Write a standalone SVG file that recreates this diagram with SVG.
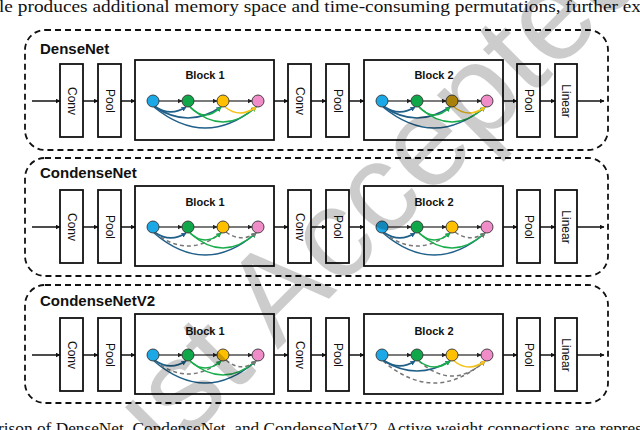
<svg xmlns="http://www.w3.org/2000/svg" width="640" height="430" viewBox="0 0 640 430">
<defs>
<style>
.panel{fill:none;stroke:#111;stroke-width:1.8;stroke-dasharray:6 4}
.box{fill:#fff;stroke:#111;stroke-width:1.8}
.blk{fill:#fff;stroke:#111;stroke-width:1.8}
.lbl{font-family:"Liberation Sans",Arial,sans-serif;font-size:12px;fill:#111;text-anchor:middle;dominant-baseline:central}
.ttl{font-family:"Liberation Sans",Arial,sans-serif;font-size:15px;font-weight:bold;fill:#111}
.btl{font-family:"Liberation Sans",Arial,sans-serif;font-size:11px;font-weight:bold;fill:#111;text-anchor:middle}
.main{fill:none;stroke:#111;stroke-width:1.5;marker-end:url(#ah)}
.na{fill:none;stroke:#222;stroke-width:1.2;marker-end:url(#ahs)}
.ab{fill:none;stroke:#1f5f88;stroke-width:1.6;marker-end:url(#ahb)}
.ag{fill:none;stroke:#1aad4b;stroke-width:1.6;marker-end:url(#ahg)}
.ay{fill:none;stroke:#f5c21a;stroke-width:1.6;marker-end:url(#ahy)}
.ak{fill:none;stroke:#777;stroke-width:1.5;stroke-dasharray:4 3;marker-end:url(#ahk)}
.n{stroke:#333;stroke-width:0.9}
.caption{font-family:"Liberation Serif","Times New Roman",serif;font-size:16.5px;fill:#111}
</style>
<marker id="ah" viewBox="0 0 10 10" refX="9" refY="5" markerWidth="5" markerHeight="5" markerUnits="userSpaceOnUse" orient="auto"><path d="M0,0 L10,5 L0,10 z" fill="#111"/></marker>
<marker id="ahs" viewBox="0 0 10 10" refX="9" refY="5" markerWidth="5" markerHeight="5" markerUnits="userSpaceOnUse" orient="auto"><path d="M0,0 L10,5 L0,10 z" fill="#222"/></marker>
<marker id="ahb" viewBox="0 0 10 10" refX="9" refY="5" markerWidth="5" markerHeight="5" markerUnits="userSpaceOnUse" orient="auto"><path d="M0,0 L10,5 L0,10 z" fill="#1f5f88"/></marker>
<marker id="ahg" viewBox="0 0 10 10" refX="9" refY="5" markerWidth="5" markerHeight="5" markerUnits="userSpaceOnUse" orient="auto"><path d="M0,0 L10,5 L0,10 z" fill="#1aad4b"/></marker>
<marker id="ahy" viewBox="0 0 10 10" refX="9" refY="5" markerWidth="5" markerHeight="5" markerUnits="userSpaceOnUse" orient="auto"><path d="M0,0 L10,5 L0,10 z" fill="#f5c21a"/></marker>
<marker id="ahk" viewBox="0 0 10 10" refX="9" refY="5" markerWidth="5" markerHeight="5" markerUnits="userSpaceOnUse" orient="auto"><path d="M0,0 L10,5 L0,10 z" fill="#777"/></marker>
</defs>
<rect width="640" height="430" fill="#fff"/>

<text class="caption" x="-1" y="12" textLength="642" lengthAdjust="spacingAndGlyphs">le produces additional memory space and time-consuming permutations, further ex</text>
<text class="caption" x="-2" y="434" textLength="644" lengthAdjust="spacingAndGlyphs">rison of DenseNet, CondenseNet, and CondenseNetV2. Active weight connections are repres</text>

<!-- Row 1: DenseNet -->
<g id="densenet">
<rect class="panel" x="25" y="30" width="583" height="120" rx="20"/>
<text class="ttl" x="40" y="54">DenseNet</text>
<g transform="translate(0,101)">
<g id="dn-conv1"><rect class="box" x="60" y="-37" width="23" height="73"/><text class="lbl" transform="translate(71.5,0) rotate(90)">Conv</text></g>
<g id="dn-pool1"><rect class="box" x="98" y="-37" width="23" height="73"/><text class="lbl" transform="translate(109.5,0) rotate(90)">Pool</text></g>
<g id="dn-block1" transform="translate(135,0)">
<rect class="blk" x="0" y="-41" width="139" height="80"/><text class="btl" x="70" y="-22">Block 1</text>
<path class="ab" d="M19,6 Q70.5,48 121,6"/><path class="ab" d="M20,6 Q53,28 86,6"/><path class="ab" d="M20,5.5 Q35.5,16 51,6"/>
<path class="ag" d="M55,6 Q88,36 121,6"/><path class="ag" d="M55,6 Q70,22 86,6"/><path class="ay" d="M90,6 Q105,18 121,6"/>
<path class="na" d="M24,0 H47"/><path class="na" d="M59,0 H82"/><path class="na" d="M94,0 H117"/>
<circle class="n" cx="18" cy="0" r="6" fill="#1aa8e6"/><circle class="n" cx="53" cy="0" r="6" fill="#10a64a"/><circle class="n" cx="88" cy="0" r="6" fill="#ffc000"/><circle class="n" cx="123" cy="0" r="6" fill="#f08cc8"/>
</g>
<g id="dn-conv2"><rect class="box" x="288" y="-37" width="23" height="73"/><text class="lbl" transform="translate(299.5,0) rotate(90)">Conv</text></g>
<g id="dn-pool2"><rect class="box" x="326" y="-37" width="23" height="73"/><text class="lbl" transform="translate(337.5,0) rotate(90)">Pool</text></g>
<g id="dn-block2" transform="translate(364,0)">
<rect class="blk" x="0" y="-41" width="139" height="80"/><text class="btl" x="70" y="-22">Block 2</text>
<path class="ab" d="M19,6 Q70.5,48 121,6"/><path class="ab" d="M20,6 Q53,28 86,6"/><path class="ab" d="M20,5.5 Q35.5,16 51,6"/>
<path class="ag" d="M55,6 Q88,36 121,6"/><path class="ag" d="M55,6 Q70,22 86,6"/><path class="ay" d="M90,6 Q105,18 121,6"/>
<path class="na" d="M24,0 H47"/><path class="na" d="M59,0 H82"/><path class="na" d="M94,0 H117"/>
<circle class="n" cx="18" cy="0" r="6" fill="#1aa8e6"/><circle class="n" cx="53" cy="0" r="6" fill="#10a64a"/><circle class="n" cx="88" cy="0" r="6" fill="#d4a20c"/><circle class="n" cx="123" cy="0" r="6" fill="#f08cc8"/>
</g>
<g id="dn-pool3"><rect class="box" x="517" y="-37" width="23" height="73"/><text class="lbl" transform="translate(528.5,0) rotate(90)">Pool</text></g>
<g id="dn-linear"><rect class="box" x="555" y="-37" width="22" height="73"/><text class="lbl" transform="translate(566,0) rotate(90)">Linear</text></g>
</g>
</g>

<!-- Row 2: CondenseNet -->
<g id="condensenet">
<rect class="panel" x="25" y="158" width="583" height="118" rx="20"/>
<text class="ttl" x="40" y="178">CondenseNet</text>
<g transform="translate(0,227)">
<g id="cn-conv1"><rect class="box" x="60" y="-37" width="23" height="73"/><text class="lbl" transform="translate(71.5,0) rotate(90)">Conv</text></g>
<g id="cn-pool1"><rect class="box" x="98" y="-37" width="23" height="73"/><text class="lbl" transform="translate(109.5,0) rotate(90)">Pool</text></g>
<g id="cn-block1" transform="translate(135,0)">
<rect class="blk" x="0" y="-41" width="139" height="80"/><text class="btl" x="70" y="-21">Block 1</text>
<path class="ab" d="M19,6 Q70.5,50 121,6"/><path class="ak" d="M20,6 Q53,32 86,6"/><path class="ab" d="M20,5.5 Q35.5,16 51,6"/>
<path class="ag" d="M55,6 Q88,36 121,6"/><path class="ag" d="M55,6 Q70,20 86,6"/><path class="ak" d="M91,5 Q106,16 121,6"/>
<path class="na" d="M24,0 H47"/><path class="na" d="M59,0 H82"/><path class="na" d="M94,0 H117"/>
<circle class="n" cx="18" cy="0" r="6" fill="#1aa8e6"/><circle class="n" cx="53" cy="0" r="6" fill="#10a64a"/><circle class="n" cx="88" cy="0" r="6" fill="#ffc000"/><circle class="n" cx="123" cy="0" r="6" fill="#f08cc8"/>
</g>
<g id="cn-conv2"><rect class="box" x="288" y="-37" width="23" height="73"/><text class="lbl" transform="translate(299.5,0) rotate(90)">Conv</text></g>
<g id="cn-pool2"><rect class="box" x="326" y="-37" width="23" height="73"/><text class="lbl" transform="translate(337.5,0) rotate(90)">Pool</text></g>
<g id="cn-block2" transform="translate(364,0)">
<rect class="blk" x="0" y="-41" width="139" height="80"/><text class="btl" x="70" y="-21">Block 2</text>
<path class="ab" d="M19,6 Q70.5,50 121,6"/><path class="ak" d="M20,6 Q53,32 86,6"/><path class="ab" d="M20,5.5 Q35.5,16 51,6"/>
<path class="ag" d="M55,6 Q88,36 121,6"/><path class="ag" d="M55,6 Q70,20 86,6"/><path class="ak" d="M91,5 Q106,16 121,6"/>
<path class="na" d="M24,0 H47"/><path class="na" d="M59,0 H82"/><path class="na" d="M94,0 H117"/>
<circle class="n" cx="18" cy="0" r="6" fill="#1aa8e6"/><circle class="n" cx="53" cy="0" r="6" fill="#10a64a"/><circle class="n" cx="88" cy="0" r="6" fill="#ffc000"/><circle class="n" cx="123" cy="0" r="6" fill="#f08cc8"/>
</g>
<g id="cn-pool3"><rect class="box" x="517" y="-37" width="23" height="73"/><text class="lbl" transform="translate(528.5,0) rotate(90)">Pool</text></g>
<g id="cn-linear"><rect class="box" x="555" y="-37" width="22" height="73"/><text class="lbl" transform="translate(566,0) rotate(90)">Linear</text></g>
</g>
</g>

<!-- Row 3: CondenseNetV2 -->
<g id="condensenetv2">
<rect class="panel" x="25" y="285" width="583" height="118" rx="20"/>
<text class="ttl" x="40" y="306">CondenseNetV2</text>
<g transform="translate(0,355)">
<g id="cv-conv1"><rect class="box" x="60" y="-37" width="23" height="73"/><text class="lbl" transform="translate(71.5,0) rotate(90)">Conv</text></g>
<g id="cv-pool1"><rect class="box" x="98" y="-37" width="23" height="73"/><text class="lbl" transform="translate(109.5,0) rotate(90)">Pool</text></g>
<g id="cv-block1" transform="translate(135,0)">
<rect class="blk" x="0" y="-41" width="139" height="80"/><text class="btl" x="70" y="-20">Block 1</text>
<path class="ab" d="M19,6 Q70.5,50 121,6"/><path class="ak" d="M20,6 Q53,32 86,6"/><path class="ab" d="M20,5.5 Q35.5,16 51,6"/>
<path class="ag" d="M55,6 Q88,34 121,6"/><path class="ag" d="M55,6 Q70,20 86,6"/><path class="ak" d="M91,5 Q106,18 121,6"/>
<path class="na" d="M24,0 H47"/><path class="na" d="M59,0 H82"/><path class="na" d="M94,0 H117"/>
<circle class="n" cx="18" cy="0" r="6" fill="#1aa8e6"/><circle class="n" cx="53" cy="0" r="6" fill="#10a64a"/><circle class="n" cx="88" cy="0" r="6" fill="#ffc000"/><circle class="n" cx="123" cy="0" r="6" fill="#f08cc8"/>
</g>
<g id="cv-conv2"><rect class="box" x="288" y="-37" width="23" height="73"/><text class="lbl" transform="translate(299.5,0) rotate(90)">Conv</text></g>
<g id="cv-pool2"><rect class="box" x="326" y="-37" width="23" height="73"/><text class="lbl" transform="translate(337.5,0) rotate(90)">Pool</text></g>
<g id="cv-block2" transform="translate(364,0)">
<rect class="blk" x="0" y="-41" width="139" height="80"/><text class="btl" x="70" y="-20">Block 2</text>
<path class="ak" d="M19,6 Q70.5,50 121,6"/><path class="ak" d="M55,6 Q88,36 121,6"/>
<path class="ab" d="M20,6 Q53,26 86,6"/><path class="ab" d="M20,5.5 Q35.5,16 51,6"/>
<path class="ag" d="M55,6 Q70,18 86,6"/><path class="ay" d="M90,6 Q105,18 121,6"/>
<path class="na" d="M24,0 H47"/><path class="na" d="M59,0 H82"/><path class="na" d="M94,0 H117"/>
<circle class="n" cx="18" cy="0" r="6" fill="#1aa8e6"/><circle class="n" cx="53" cy="0" r="6" fill="#10a64a"/><circle class="n" cx="88" cy="0" r="6" fill="#ffc000"/><circle class="n" cx="123" cy="0" r="6" fill="#f08cc8"/>
</g>
<g id="cv-pool3"><rect class="box" x="517" y="-37" width="23" height="73"/><text class="lbl" transform="translate(528.5,0) rotate(90)">Pool</text></g>
<g id="cv-linear"><rect class="box" x="555" y="-37" width="22" height="73"/><text class="lbl" transform="translate(566,0) rotate(90)">Linear</text></g>
</g>
</g>

<g id="connectors">
<g transform="translate(0,101)">
<path class="main" d="M32,0 H60"/><path class="main" d="M83,0 H98"/><path class="main" d="M121,0 H135"/><path class="main" d="M274,0 H288"/><path class="main" d="M311,0 H326"/><path class="main" d="M349,0 H364"/><path class="main" d="M503,0 H517"/><path class="main" d="M540,0 H555"/><path class="main" d="M577,0 H604"/>
</g>
<g transform="translate(0,227)">
<path class="main" d="M32,0 H60"/><path class="main" d="M83,0 H98"/><path class="main" d="M121,0 H135"/><path class="main" d="M274,0 H288"/><path class="main" d="M311,0 H326"/><path class="main" d="M349,0 H364"/><path class="main" d="M503,0 H517"/><path class="main" d="M540,0 H555"/><path class="main" d="M577,0 H604"/>
</g>
<g transform="translate(0,355)">
<path class="main" d="M32,0 H60"/><path class="main" d="M83,0 H98"/><path class="main" d="M121,0 H135"/><path class="main" d="M274,0 H288"/><path class="main" d="M311,0 H326"/><path class="main" d="M349,0 H364"/><path class="main" d="M503,0 H517"/><path class="main" d="M540,0 H555"/><path class="main" d="M577,0 H604"/>
</g>
</g>

<text x="0" y="0" transform="translate(60,505) rotate(-45)" font-family="Liberation Sans, Arial, sans-serif" font-size="128" fill="#000" fill-opacity="0.2" dominant-baseline="central">Just Accepted</text>
</svg>
